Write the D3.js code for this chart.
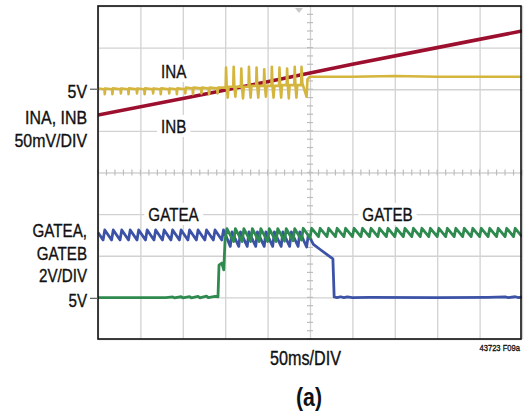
<!DOCTYPE html>
<html><head><meta charset="utf-8">
<script src="https://cdn.jsdelivr.net/npm/d3@7"></script>
<style>
html,body{margin:0;padding:0;background:#fff;}
text{font-family:"Liberation Sans",Arial,sans-serif;}
</style></head>
<body><svg id="c" width="527" height="413"></svg>
<script>
// time axis (ms) and tick values
const timeTicks = [0,50,100,150,200,250,300,350,400,450,500];
const inTicks = [4.70,4.75,4.80,4.85,4.90,4.95,5.00,5.05,5.10];   // INA/INB, 50mV/DIV
const gateTicks = [3,5,7,9,11,13,15,17,19];                        // GATE, 2V/DIV

// INB (V) vs time (ms)
const inbData = [[0,4.969],[100,4.989],[200,5.009],[300,5.030],[400,5.050],[500,5.070]];

// INA (V) vs time (ms)
const inaData = [
[0,5.001],
[7.5,5.0],[8,4.994],[8.6,5.001],[16.5,5.0],[17,4.994],[17.6,5.001],
[26.5,5.0],[27,4.995],[27.6,5.001],[35.5,5.0],[36,4.994],[36.6,5.001],
[45.5,5.0],[46,4.995],[46.6,5.001],[54.5,5.0],[55,4.994],[55.6,5.001],
[64.5,5.0],[65,4.995],[65.6,5.001],[73.5,5.0],[74,4.994],[74.6,5.001],
[83.5,5.0],[84,4.995],[84.6,5.001],[92.5,5.0],[93,4.994],[93.6,5.001],
[102.5,5.0],[103,4.995],[103.6,5.002],[111.5,5.001],[112,4.994],[112.6,5.002],
[121.5,5.001],[122,4.995],[122.6,5.002],[130.5,5.001],[131,4.994],[131.6,5.002],
[140.5,5.001],[141,4.995],[141.6,5.002],[150.5,5.002],
[151,5.026],[151.8,5.003],[153,4.990],[154,5.003],
[159.5,5.003],[160,5.027],[160.8,5.003],[162,4.991],[163,5.003],
[168.5,5.003],[169,5.025],[169.8,5.003],[171,4.989],[172,5.003],
[177.5,5.003],[178,5.027],[178.8,5.004],[180,4.990],[181,5.004],
[186.5,5.004],[187,5.026],[187.8,5.004],[189,4.990],[190,5.004],
[195.5,5.004],[196,5.024],[196.8,5.004],[198,4.991],[199,5.004],
[204.5,5.004],[205,5.027],[205.8,5.004],[207,4.990],[208,5.004],
[213.5,5.004],[214,5.026],[214.8,5.005],[216,4.990],[217,5.005],
[222.5,5.005],[223,5.025],[223.8,5.005],[225,4.989],[226,5.005],
[231.5,5.005],[232,5.027],[232.8,5.005],[234,4.990],[235,5.005],
[239.5,5.005],[240,5.027],[241,5.007],[246,4.991],[247,5.012],[250,5.015],
[300,5.015],[350,5.016],[400,5.015],[450,5.015],[500,5.015]
];

// GATEA (V) vs time (ms)
const gateAData = [
[0,8.12],[6,7.76],[8,8.24],[16,7.76],[18,8.24],[26,7.76],[28,8.24],[36,7.76],[38,8.24],
[46,7.76],[48,8.24],[56,7.76],[58,8.24],[66,7.76],[68,8.24],[76,7.76],[78,8.24],
[86,7.76],[88,8.24],[96,7.76],[98,8.24],[106,7.76],[108,8.24],[116,7.76],[118,8.24],
[126,7.76],[128,8.24],[136,7.76],[138,8.24],[146,7.76],[148,8.24],
[156,7.45],[158,8.15],[166,7.45],[168,8.15],[176,7.45],[178,8.15],[186,7.45],[188,8.15],
[196,7.45],[198,8.15],[206,7.45],[208,8.15],[216,7.45],[218,8.15],[226,7.45],[228,8.15],
[236,7.45],[238,8.15],[246,7.42],[248,8.0],[254,7.55],[262,7.3],[277,6.85],[278.5,5.02],
[282,4.99],[286,5.03],[290,4.99],[294,5.02],[300,4.99],[320,5.0],[400,4.99],[460,5.0],
[480,5.02],[484,4.99],[492,5.03],[496,4.99],[500,5.02]
];

// GATEB (V) vs time (ms)
const gateBData = [
[0,4.99],[80,4.99],[88,5.02],[90,4.98],[98,5.03],[100,4.98],[108,5.04],[110,4.98],
[118,5.05],[120,4.98],[128,5.06],[130,4.99],[138,5.05],[141.5,5.03],
[142.7,6.55],[146,6.65],[148.3,6.32],[149.8,7.72],
[152,8.3],[160,7.68],[162,8.3],[170,7.68],[172,8.3],[180,7.68],[182,8.3],[190,7.68],
[192,8.3],[200,7.68],[202,8.3],[210,7.68],[212,8.3],[220,7.7],[222,8.3],[230,7.72],
[232,8.3],[240,7.75],[242,8.32],[250,7.85],[252,8.32],[260,7.92],[262,8.32],[270,7.92],
[272,8.32],[280,7.92],[282,8.32],[290,7.92],[292,8.32],[300,7.92],[302,8.32],[310,7.92],
[312,8.32],[320,7.92],[322,8.32],[330,7.92],[332,8.32],[340,7.92],[342,8.32],[350,7.92],
[352,8.32],[360,7.92],[362,8.32],[370,7.92],[372,8.32],[380,7.92],[382,8.32],[390,7.92],
[392,8.32],[400,7.92],[402,8.32],[410,7.92],[412,8.32],[420,7.92],[422,8.32],[430,7.92],
[432,8.32],[440,7.92],[442,8.32],[450,7.92],[452,8.32],[460,7.92],[462,8.32],[470,7.92],
[472,8.32],[480,7.92],[482,8.32],[490,7.92],[492,8.32],[500,7.92]
];

const leftLabelsIn = ["5V","INA, INB","50mV/DIV"];
const leftLabelsGate = ["GATEA,","GATEB","2V/DIV","5V"];

const svg = d3.select("#c");
const L=98, R=522, T=6, B=339;
const x = d3.scaleLinear().domain([0,500]).range([L,R]);
const yIn = d3.scaleLinear().domain([4.70,5.10]).range([B,T]);
const yG = d3.scaleLinear().domain([3,19]).range([B,T]);

const gridCol = "#d2d2d2";
const gx = svg.append("g").attr("transform",`translate(0,${B})`)
  .call(d3.axisBottom(x).tickValues(timeTicks).tickSize(-(B-T)).tickFormat(""));
gx.select(".domain").remove();
gx.selectAll("line").attr("stroke",gridCol).attr("stroke-width",1.3);
const gy = svg.append("g").attr("transform",`translate(${L},0)`)
  .call(d3.axisLeft(yIn).tickValues(inTicks).tickSize(-(R-L)).tickFormat(""));
gy.select(".domain").remove();
gy.selectAll("line").attr("stroke",gridCol).attr("stroke-width",1.3);

// minor ticks on center lines
const yc = yIn(4.90), xc = x(250);
const minorT = d3.range(0,500.01,10);
svg.append("g").selectAll("line").data(minorT).join("line")
  .attr("x1",d=>x(d)).attr("x2",d=>x(d)).attr("y1",yc-3).attr("y2",yc+3)
  .attr("stroke","#bdbdbd").attr("stroke-width",1.2);
const minorV = d3.range(4.70,5.1001,0.01);
svg.append("g").selectAll("line").data(minorV).join("line")
  .attr("x1",xc-3).attr("x2",xc+3).attr("y1",d=>yIn(d)).attr("y2",d=>yIn(d))
  .attr("stroke","#bdbdbd").attr("stroke-width",1.2);

// trigger marker
svg.append("path").attr("d",`M${x(237)-4},${T+2} L${x(237)+4},${T+2} L${x(237)},${T+7} Z`).attr("fill","#c8c8c8");

// condensed text helper
function ctext(parent, str, px, py, size, anchor, sx, weight){
  const g = parent.append("g").attr("transform",`translate(${px},${py}) scale(${sx},1)`);
  const t = g.append("text").attr("x",0).attr("y",0).attr("text-anchor",anchor)
    .attr("font-size",size).attr("fill","#111").attr("stroke","#111").attr("stroke-width",weight?0:0.35).text(str);
  if (weight) t.attr("font-weight",weight);
  return {g,t};
}

// in-plot labels with white backgrounds
const inLabels = [{t:"INA",x:173.7,y:77.5},{t:"INB",x:173.7,y:132.5},{t:"GATEA",x:173.5,y:220.5},{t:"GATEB",x:387.5,y:220.5}];
const lg = svg.append("g");
inLabels.forEach(d=>{
  const o = ctext(lg, d.t, d.x, d.y, 19, "middle", 0.8);
  const bb = o.t.node().getBBox();
  o.g.insert("rect","text").attr("x",bb.x-5).attr("y",bb.y).attr("width",bb.width+10).attr("height",bb.height).attr("fill","#fff");
});

// traces
const defs = svg.append("defs");
defs.append("clipPath").attr("id","clip").append("rect").attr("x",L).attr("y",T).attr("width",R-L).attr("height",B-T);
const tr = svg.append("g").attr("clip-path","url(#clip)");
const lineIn = d3.line().x(d=>x(d[0])).y(d=>yIn(d[1]));
const lineG = d3.line().x(d=>x(d[0])).y(d=>yG(d[1]));
tr.append("path").attr("d",lineIn(inbData)).attr("fill","none").attr("stroke","#9c0f2e").attr("stroke-width",3.6).attr("stroke-linejoin","round");
tr.append("path").attr("d",lineIn(inaData)).attr("fill","none").attr("stroke","#d4b53e").attr("stroke-width",2.6).attr("stroke-linejoin","round");
tr.append("path").attr("d",lineG(gateAData)).attr("fill","none").attr("stroke","#3c52a6").attr("stroke-width",2.8).attr("stroke-linejoin","round");
tr.append("path").attr("d",lineG(gateBData)).attr("fill","none").attr("stroke","#2f8a4f").attr("stroke-width",2.8).attr("stroke-linejoin","round");

// frame
svg.append("rect").attr("x",L).attr("y",T).attr("width",R-L-1).attr("height",B-T).attr("fill","none").attr("stroke","#111").attr("stroke-width",1.6);

// left ticks for 5V levels
svg.append("line").attr("x1",90).attr("x2",L).attr("y1",yIn(5.0)).attr("y2",yIn(5.0)).attr("stroke","#666").attr("stroke-width",1.3);
svg.append("line").attr("x1",90).attr("x2",L).attr("y1",yG(5)+1).attr("y2",yG(5)+1).attr("stroke","#666").attr("stroke-width",1.3);

// left labels
const lbl = svg.append("g");
const inY = [97.5,124,146.5];
leftLabelsIn.forEach((t,i)=>ctext(lbl, t, 87, inY[i], 18.5, "end", 0.86));
const gY = [237,260,281.5,306.5];
leftLabelsGate.forEach((t,i)=>ctext(lbl, t, 87, gY[i], 18.5, "end", 0.82));

// bottom labels
ctext(svg, "50ms/DIV", 305.5, 365, 19.5, "middle", 0.83);
ctext(svg, "43723 F09a", 520, 350.5, 9.5, "end", 0.8);
ctext(svg, "(a)", 309, 406, 25, "middle", 0.85, "bold");
</script></body></html>
